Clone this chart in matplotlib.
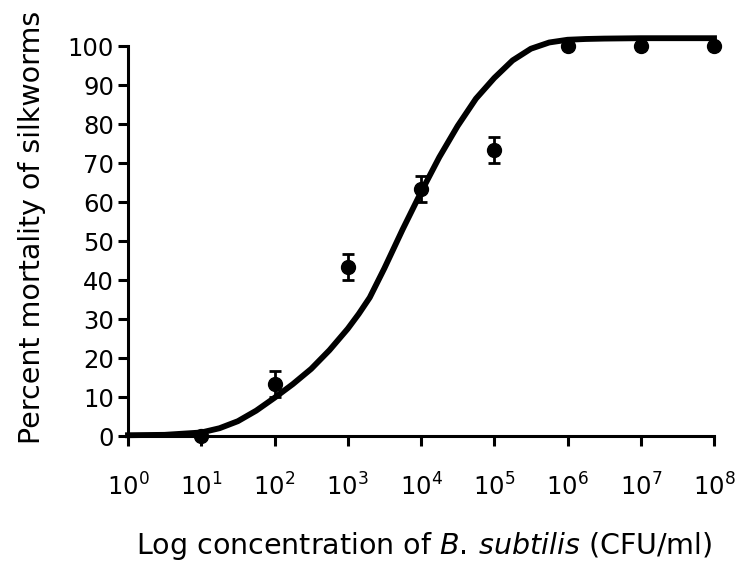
import numpy as np
import matplotlib
matplotlib.use('Agg')
import matplotlib.pyplot as plt

# Measured mortality (mean +/- SEM) at each concentration
conc = [1e1, 1e2, 1e3, 1e4, 1e5, 1e6, 1e7, 1e8]
mortality = [0, 13.3, 43.3, 63.3, 73.3, 100, 100, 100]
sem = [0, 3.3, 3.3, 3.3, 3.3, 0, 0, 0]

# Fitted dose-response curve
curve_logx = [0, 0.5, 1, 1.25, 1.5, 1.75, 2, 2.25, 2.5, 2.75, 3, 3.15, 3.3,
              3.5, 3.75, 4, 4.25, 4.5, 4.75, 5, 5.25, 5.5, 5.75, 6, 6.25,
              6.5, 7, 7.5, 8]
curve_y = [0.2, 0.3, 0.9, 2.0, 3.8, 6.5, 9.8, 13.3, 17.2, 22.0, 27.5, 31.3,
           35.5, 43.0, 53.0, 62.5, 71.5, 79.5, 86.5, 91.8, 96.3, 99.3, 100.9,
           101.6, 101.8, 101.9, 102.0, 102.0, 102.0]

xticks = [10.0 ** k for k in range(0, 9)]
xticklabels = [r'$\mathregular{10^{%d}}$' % k for k in range(0, 9)]
yticks = list(range(0, 101, 10))

plt.rcParams['font.family'] = 'DejaVu Sans'

fig = plt.figure(figsize=(7.39, 5.61), dpi=100)
ax = fig.add_axes([0.1732, 0.2228, 0.7930, 0.6952])

curve_x = [10.0 ** v for v in curve_logx]
ax.plot(curve_x, curve_y, color='black', linewidth=4.2, solid_joinstyle='round',
        clip_on=False, zorder=3)
ax.errorbar(conc, mortality, yerr=sem, fmt='o', color='black', markersize=10,
            elinewidth=2, capsize=4.5, capthick=2, clip_on=False, zorder=4)

ax.set_xscale('log')
ax.set_xlim(1, 1e8)
ax.set_ylim(0, 100)
ax.set_xticks(xticks)
ax.set_xticklabels(xticklabels)
ax.minorticks_off()
ax.set_yticks(yticks)

for side in ['top', 'right']:
    ax.spines[side].set_visible(False)
for side in ['left', 'bottom']:
    ax.spines[side].set_linewidth(2.2)

ax.tick_params(axis='both', width=2.2, length=7, labelsize=17.5)
ax.tick_params(axis='x', pad=20)
ax.tick_params(axis='y', pad=3)

ax.set_ylabel('Percent mortality of silkworms', fontsize=20.5)
ax.set_xlabel(r'Log concentration of $\mathit{B.\,subtilis}$ (CFU/ml)', fontsize=20.5)
ax.yaxis.set_label_coords(-0.14, 0.535)
ax.xaxis.set_label_coords(0.505, -0.24)

fig.savefig('out.png', dpi=100)
